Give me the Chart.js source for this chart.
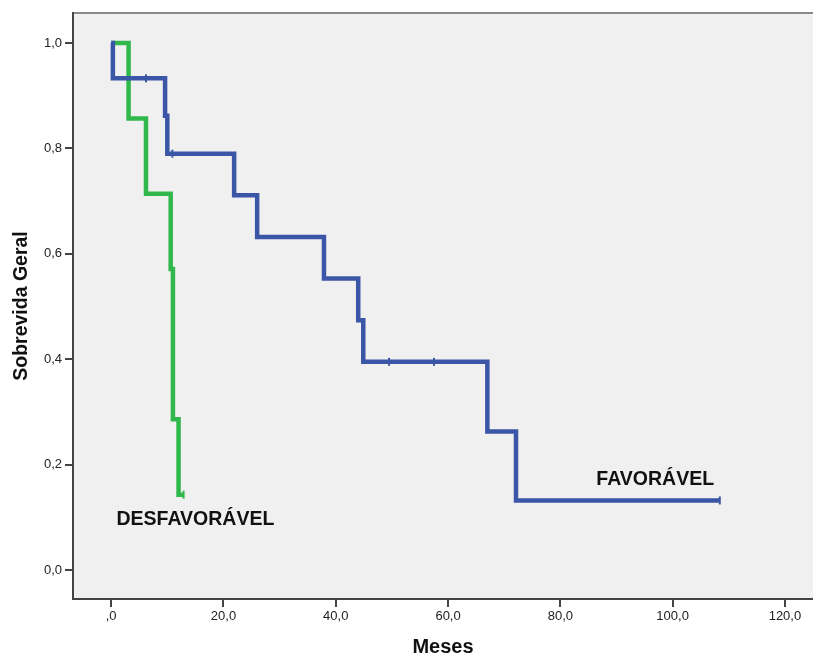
<!DOCTYPE html>
<html>
<head>
<meta charset="utf-8">
<script src="https://cdn.jsdelivr.net/npm/chart.js@4/dist/chart.umd.min.js"></script>
<style>
  html, body { margin: 0; padding: 0; background: #ffffff; overflow: hidden; }
  #wrap { width: 813px; height: 657px; position: relative; }
</style>
</head>
<body>
<div id="wrap"><canvas id="c" width="813" height="657"></canvas></div>
<script>
// Kaplan-Meier step points (time in months, survival after that time)
const favTimes = [0, 0.3, 9.6, 10.0, 21.9, 26.0, 37.9, 44.0, 44.9, 67.0, 72.1, 108.4];
const favSurv  = [1.0, 0.933, 0.862, 0.790, 0.711, 0.632, 0.553, 0.474, 0.395, 0.263, 0.132, 0.132];
const favCensorTimes = [6.2, 10.9, 49.5, 57.5, 108.4];
const favCensorSurv  = [0.933, 0.790, 0.395, 0.395, 0.132];

const desTimes = [0, 3.1, 6.2, 10.6, 11.0, 12.0, 12.9];
const desSurv  = [1.0, 0.857, 0.714, 0.571, 0.286, 0.143, 0.143];
const desCensorTimes = [12.9];
const desCensorSurv  = [0.143];

const xTicks = [0, 20, 40, 60, 80, 100, 120];
const yTicks = [0, 0.2, 0.4, 0.6, 0.8, 1.0];

const groupLabels = ["FAVORÁVEL", "DESFAVORÁVEL"];
const groupLabelAt = [[96.9, 0.171], [15.0, 0.095]];

const blue = '#3b55a7';
const green = '#30b84c';

const pts = (xs, ys) => xs.map((x, i) => ({x: x, y: ys[i]}));

const fmtX = v => { const s = v.toFixed(1).replace('.', ','); return s === '0,0' ? ',0' : s; };
const fmtY = v => v.toFixed(1).replace('.', ',');

const bgPlugin = {
  id: 'bgPlugin',
  beforeDraw(chart) {
    const {ctx, chartArea: a} = chart;
    ctx.save();
    ctx.fillStyle = '#f0f0f0';
    ctx.fillRect(a.left, a.top, a.right - a.left, a.bottom - a.top);
    ctx.strokeStyle = '#8a8a8a';
    ctx.lineWidth = 2;
    ctx.beginPath();
    ctx.moveTo(a.left, a.top);
    ctx.lineTo(a.right, a.top);
    ctx.stroke();
    ctx.restore();
  },
  afterDatasetsDraw(chart) {
    const {ctx, scales} = chart;
    ctx.save();
    ctx.fillStyle = '#111111';
    ctx.font = 'bold 19.5px "Liberation Sans", Arial, sans-serif';
    ctx.textAlign = 'center';
    ctx.textBaseline = 'middle';
    groupLabels.forEach((t, i) => {
      ctx.fillText(t, scales.x.getPixelForValue(groupLabelAt[i][0]), scales.y.getPixelForValue(groupLabelAt[i][1]));
    });
    ctx.restore();
  }
};

const noPad = s => { s.paddingLeft = 0; s.paddingRight = 0; s.paddingTop = 0; s.paddingBottom = 0; };

new Chart(document.getElementById('c'), {
  type: 'line',
  data: {
    datasets: [
      { label: 'FAVORÁVEL', data: pts(favTimes, favSurv), borderColor: blue, borderWidth: 4.5,
        stepped: 'before', pointRadius: 0, fill: false, borderJoinStyle: 'miter', borderCapStyle: 'butt' },
      { label: 'DESFAVORÁVEL', data: pts(desTimes, desSurv), borderColor: green, borderWidth: 4.5,
        stepped: 'before', pointRadius: 0, fill: false, borderJoinStyle: 'miter', borderCapStyle: 'butt' },
      { label: 'censor fav', data: pts(favCensorTimes, favCensorSurv), showLine: false,
        pointStyle: 'line', rotation: 90, pointRadius: 4, borderColor: blue, borderWidth: 2, backgroundColor: blue },
      { label: 'censor des', data: pts(desCensorTimes, desCensorSurv), showLine: false,
        pointStyle: 'line', rotation: 90, pointRadius: 4, borderColor: green, borderWidth: 2, backgroundColor: green }
    ]
  },
  options: {
    responsive: false,
    animation: false,
    devicePixelRatio: 1,
    layout: { autoPadding: false, padding: { top: 13, left: 0, right: 0, bottom: 0 } },
    plugins: { legend: { display: false }, tooltip: { enabled: false } },
    scales: {
      x: {
        type: 'linear', min: -6.8, max: 125,
        afterFit: s => { s.height = 58; noPad(s); },
        afterBuildTicks: s => { s.ticks = xTicks.map(v => ({value: v})); },
        ticks: { callback: v => fmtX(v), color: '#222', font: { family: '"Liberation Sans", Arial, sans-serif', size: 13 }, padding: 2, maxRotation: 0 },
        grid: { drawOnChartArea: false, drawTicks: true, tickLength: 8, color: '#444', lineWidth: 2 },
        border: { display: true, color: '#444', width: 2 },
        title: { display: true, text: 'Meses', color: '#111', font: { family: '"Liberation Sans", Arial, sans-serif', size: 20, weight: 'bold', lineHeight: 1 }, padding: { top: 0, bottom: 0 } }
      },
      y: {
        type: 'linear', min: -0.055, max: 1.057,
        afterFit: s => { s.width = 73; noPad(s); },
        afterBuildTicks: s => { s.ticks = yTicks.map(v => ({value: v})); },
        ticks: { callback: v => fmtY(v), color: '#222', font: { family: '"Liberation Sans", Arial, sans-serif', size: 13 }, padding: 3 },
        grid: { drawOnChartArea: false, drawTicks: true, tickLength: 8, color: '#444', lineWidth: 2 },
        border: { display: true, color: '#444', width: 2 },
        title: { display: true, text: 'Sobrevida Geral', color: '#111', font: { family: '"Liberation Sans", Arial, sans-serif', size: 19.5, weight: 'bold', lineHeight: 1 }, padding: { top: 12, bottom: 0 } }
      }
    }
  },
  plugins: [bgPlugin]
});
</script>
</body>
</html>
